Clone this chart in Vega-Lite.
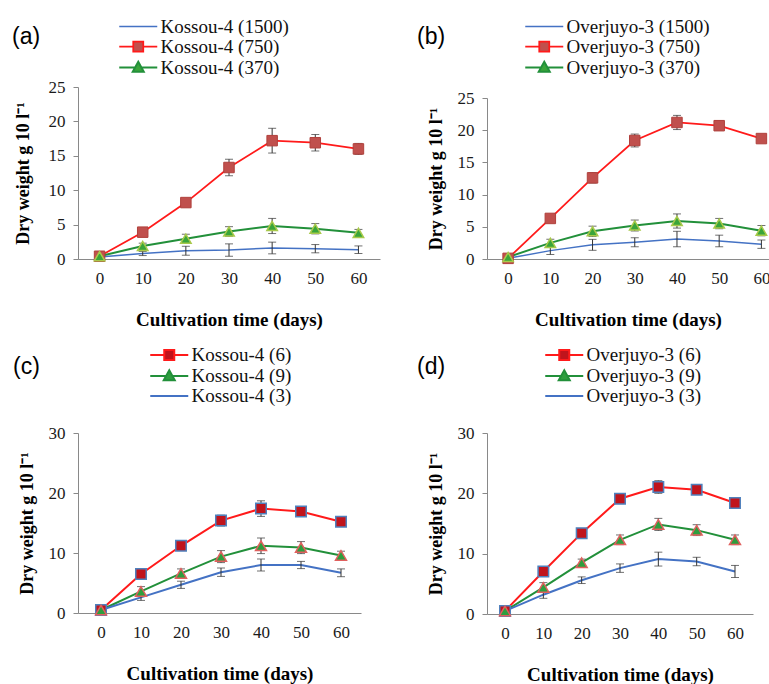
{
  "$schema": "https://vega.github.io/schema/vega-lite/v6.json",
  "padding": {"left": 12, "top": 17, "right": 0, "bottom": 0},
  "background": "white",
  "config": {
    "view": {"stroke": null},
    "axis": {"domainColor": "#898989", "tickColor": "#898989", "labelFont": "Liberation Serif", "labelFontSize": 17, "labelColor": "#1a1a1a", "titleFont": "Liberation Serif", "titleFontSize": 19, "titleFontWeight": "bold", "titleColor": "#000000", "grid": false},
    "axisX": {"ticks": false, "tickSize": 0, "labelPadding": 11, "titlePadding": 24},
    "axisY": {"tickSize": 5, "labelPadding": 8, "titlePadding": 12, "titleFontSize": 18},
    "legend": {"orient": "none", "padding": 0, "titleOrient": "left", "titleAnchor": "start", "titleBaseline": "top", "titleFont": "Liberation Sans", "titleFontSize": 23, "titleFontWeight": "normal", "titleColor": "#000000", "labelFont": "Liberation Serif", "labelFontSize": 19, "labelColor": "#111111", "labelOffset": 22.5, "rowPadding": 0, "symbolSize": 100, "symbolStrokeWidth": 2}
  },
  "data": {"values": [
    {"panel": "a", "series": "Kossou-4 (1500)", "day": 0, "value": 0.3, "err": 0.1},
    {"panel": "a", "series": "Kossou-4 (1500)", "day": 10, "value": 0.8, "err": 0.3},
    {"panel": "a", "series": "Kossou-4 (1500)", "day": 20, "value": 1.2, "err": 0.65},
    {"panel": "a", "series": "Kossou-4 (1500)", "day": 30, "value": 1.3, "err": 0.9},
    {"panel": "a", "series": "Kossou-4 (1500)", "day": 40, "value": 1.6, "err": 0.85},
    {"panel": "a", "series": "Kossou-4 (1500)", "day": 50, "value": 1.5, "err": 0.6},
    {"panel": "a", "series": "Kossou-4 (1500)", "day": 60, "value": 1.35, "err": 0.55},
    {"panel": "a", "series": "Kossou-4 (750)", "day": 0, "value": 0.4, "err": 0.1},
    {"panel": "a", "series": "Kossou-4 (750)", "day": 10, "value": 3.9, "err": 0.3},
    {"panel": "a", "series": "Kossou-4 (750)", "day": 20, "value": 8.2, "err": 0.6},
    {"panel": "a", "series": "Kossou-4 (750)", "day": 30, "value": 13.3, "err": 1.2},
    {"panel": "a", "series": "Kossou-4 (750)", "day": 40, "value": 17.2, "err": 1.8},
    {"panel": "a", "series": "Kossou-4 (750)", "day": 50, "value": 16.9, "err": 1.2},
    {"panel": "a", "series": "Kossou-4 (750)", "day": 60, "value": 16.0, "err": 0.8},
    {"panel": "a", "series": "Kossou-4 (370)", "day": 0, "value": 0.4, "err": 0.1},
    {"panel": "a", "series": "Kossou-4 (370)", "day": 10, "value": 1.9, "err": 0.4},
    {"panel": "a", "series": "Kossou-4 (370)", "day": 20, "value": 2.95, "err": 0.65},
    {"panel": "a", "series": "Kossou-4 (370)", "day": 30, "value": 4.0, "err": 0.7},
    {"panel": "a", "series": "Kossou-4 (370)", "day": 40, "value": 4.8, "err": 1.1},
    {"panel": "a", "series": "Kossou-4 (370)", "day": 50, "value": 4.4, "err": 0.75},
    {"panel": "a", "series": "Kossou-4 (370)", "day": 60, "value": 3.8, "err": 0.5},
    {"panel": "b", "series": "Overjuyo-3 (1500)", "day": 0, "value": 0.1, "err": 0.05},
    {"panel": "b", "series": "Overjuyo-3 (1500)", "day": 10, "value": 1.3, "err": 0.6},
    {"panel": "b", "series": "Overjuyo-3 (1500)", "day": 20, "value": 2.2, "err": 0.85},
    {"panel": "b", "series": "Overjuyo-3 (1500)", "day": 30, "value": 2.6, "err": 0.7},
    {"panel": "b", "series": "Overjuyo-3 (1500)", "day": 40, "value": 3.1, "err": 1.2},
    {"panel": "b", "series": "Overjuyo-3 (1500)", "day": 50, "value": 2.8, "err": 0.9},
    {"panel": "b", "series": "Overjuyo-3 (1500)", "day": 60, "value": 2.3, "err": 0.65},
    {"panel": "b", "series": "Overjuyo-3 (750)", "day": 0, "value": 0.1, "err": 0.05},
    {"panel": "b", "series": "Overjuyo-3 (750)", "day": 10, "value": 6.3, "err": 0.3},
    {"panel": "b", "series": "Overjuyo-3 (750)", "day": 20, "value": 12.6, "err": 0.8},
    {"panel": "b", "series": "Overjuyo-3 (750)", "day": 30, "value": 18.4, "err": 1.0},
    {"panel": "b", "series": "Overjuyo-3 (750)", "day": 40, "value": 21.2, "err": 1.1},
    {"panel": "b", "series": "Overjuyo-3 (750)", "day": 50, "value": 20.7, "err": 0.7},
    {"panel": "b", "series": "Overjuyo-3 (750)", "day": 60, "value": 18.7, "err": 0.6},
    {"panel": "b", "series": "Overjuyo-3 (370)", "day": 0, "value": 0.3, "err": 0.1},
    {"panel": "b", "series": "Overjuyo-3 (370)", "day": 10, "value": 2.5, "err": 0.55},
    {"panel": "b", "series": "Overjuyo-3 (370)", "day": 20, "value": 4.3, "err": 0.8},
    {"panel": "b", "series": "Overjuyo-3 (370)", "day": 30, "value": 5.2, "err": 0.85},
    {"panel": "b", "series": "Overjuyo-3 (370)", "day": 40, "value": 5.9, "err": 1.1},
    {"panel": "b", "series": "Overjuyo-3 (370)", "day": 50, "value": 5.5, "err": 0.8},
    {"panel": "b", "series": "Overjuyo-3 (370)", "day": 60, "value": 4.4, "err": 0.8},
    {"panel": "c", "series": "Kossou-4 (6)", "day": 0, "value": 0.5, "err": 0.1},
    {"panel": "c", "series": "Kossou-4 (6)", "day": 10, "value": 6.5, "err": 0.3},
    {"panel": "c", "series": "Kossou-4 (6)", "day": 20, "value": 11.2, "err": 0.5},
    {"panel": "c", "series": "Kossou-4 (6)", "day": 30, "value": 15.4, "err": 0.9},
    {"panel": "c", "series": "Kossou-4 (6)", "day": 40, "value": 17.4, "err": 1.3},
    {"panel": "c", "series": "Kossou-4 (6)", "day": 50, "value": 16.9, "err": 0.75},
    {"panel": "c", "series": "Kossou-4 (6)", "day": 60, "value": 15.2, "err": 0.5},
    {"panel": "c", "series": "Kossou-4 (9)", "day": 0, "value": 0.5, "err": 0.1},
    {"panel": "c", "series": "Kossou-4 (9)", "day": 10, "value": 3.6, "err": 0.8},
    {"panel": "c", "series": "Kossou-4 (9)", "day": 20, "value": 6.6, "err": 0.75},
    {"panel": "c", "series": "Kossou-4 (9)", "day": 30, "value": 9.4, "err": 1.0},
    {"panel": "c", "series": "Kossou-4 (9)", "day": 40, "value": 11.2, "err": 1.3},
    {"panel": "c", "series": "Kossou-4 (9)", "day": 50, "value": 10.9, "err": 1.0},
    {"panel": "c", "series": "Kossou-4 (9)", "day": 60, "value": 9.6, "err": 0.7},
    {"panel": "c", "series": "Kossou-4 (3)", "day": 0, "value": 0.5, "err": 0.1},
    {"panel": "c", "series": "Kossou-4 (3)", "day": 10, "value": 2.6, "err": 0.5},
    {"panel": "c", "series": "Kossou-4 (3)", "day": 20, "value": 4.7, "err": 0.6},
    {"panel": "c", "series": "Kossou-4 (3)", "day": 30, "value": 6.8, "err": 0.7},
    {"panel": "c", "series": "Kossou-4 (3)", "day": 40, "value": 8.0, "err": 1.0},
    {"panel": "c", "series": "Kossou-4 (3)", "day": 50, "value": 8.0, "err": 0.6},
    {"panel": "c", "series": "Kossou-4 (3)", "day": 60, "value": 6.7, "err": 0.65},
    {"panel": "d", "series": "Overjuyo-3 (6)", "day": 0, "value": 0.5, "err": 0.1},
    {"panel": "d", "series": "Overjuyo-3 (6)", "day": 10, "value": 7.05, "err": 0.3},
    {"panel": "d", "series": "Overjuyo-3 (6)", "day": 20, "value": 13.4, "err": 0.4},
    {"panel": "d", "series": "Overjuyo-3 (6)", "day": 30, "value": 19.1, "err": 0.8},
    {"panel": "d", "series": "Overjuyo-3 (6)", "day": 40, "value": 21.05, "err": 1.05},
    {"panel": "d", "series": "Overjuyo-3 (6)", "day": 50, "value": 20.6, "err": 0.8},
    {"panel": "d", "series": "Overjuyo-3 (6)", "day": 60, "value": 18.4, "err": 0.6},
    {"panel": "d", "series": "Overjuyo-3 (9)", "day": 0, "value": 0.5, "err": 0.1},
    {"panel": "d", "series": "Overjuyo-3 (9)", "day": 10, "value": 4.4, "err": 0.8},
    {"panel": "d", "series": "Overjuyo-3 (9)", "day": 20, "value": 8.5, "err": 0.6},
    {"panel": "d", "series": "Overjuyo-3 (9)", "day": 30, "value": 12.3, "err": 0.8},
    {"panel": "d", "series": "Overjuyo-3 (9)", "day": 40, "value": 14.85, "err": 1.0},
    {"panel": "d", "series": "Overjuyo-3 (9)", "day": 50, "value": 13.9, "err": 0.9},
    {"panel": "d", "series": "Overjuyo-3 (9)", "day": 60, "value": 12.3, "err": 0.8},
    {"panel": "d", "series": "Overjuyo-3 (3)", "day": 0, "value": 0.5, "err": 0.1},
    {"panel": "d", "series": "Overjuyo-3 (3)", "day": 10, "value": 3.2, "err": 0.6},
    {"panel": "d", "series": "Overjuyo-3 (3)", "day": 20, "value": 5.6, "err": 0.55},
    {"panel": "d", "series": "Overjuyo-3 (3)", "day": 30, "value": 7.6, "err": 0.7},
    {"panel": "d", "series": "Overjuyo-3 (3)", "day": 40, "value": 9.1, "err": 1.15},
    {"panel": "d", "series": "Overjuyo-3 (3)", "day": 50, "value": 8.7, "err": 0.7},
    {"panel": "d", "series": "Overjuyo-3 (3)", "day": 60, "value": 7.05, "err": 1.0}
  ]},
  "spacing": 16,
  "resolve": {"scale": {"color": "independent", "strokeWidth": "independent"}, "legend": {"color": "independent", "strokeWidth": "independent"}},
  "vconcat": [
    {
      "resolve": {"scale": {"color": "independent", "strokeWidth": "independent"}, "legend": {"color": "independent", "strokeWidth": "independent"}},
      "concat": [
        {
          "width": 302, "height": 172,
          "transform": [{"filter": "datum.panel == 'a'"}],
          "encoding": {
            "x": {"field": "day", "type": "quantitative", "scale": {"domain": [-5, 65], "nice": false, "zero": false}, "axis": {"values": [0, 10, 20, 30, 40, 50, 60], "title": "Cultivation time (days)"}},
            "y": {"field": "value", "type": "quantitative", "scale": {"domain": [0, 25], "nice": false}, "axis": {"values": [0, 5, 10, 15, 20, 25], "title": "Dry weight g 10 l⁻¹", "titlePadding": 16}}
          },
          "layer": [
            {"mark": {"type": "line"}, "encoding": {
              "color": {"field": "series", "type": "nominal", "scale": {"domain": ["Kossou-4 (1500)", "Kossou-4 (750)", "Kossou-4 (370)"], "range": ["#4472c4", "#ff1a1a", "#22903a"]},
                "legend": {"legendX": -66, "legendY": -70, "title": "(a)", "titlePadding": 78,
                  "encode": {"symbols": {"update": {
                    "shape": {"signal": "datum.value == 'Kossou-4 (1500)' ? 'M-1.85,0H5.75' : datum.value == 'Kossou-4 (750)' ? 'M-1.85,0H0.95M2.95,0H5.75M0.95,-1H2.95V1H0.95Z' : 'M-1.85,0H1.32M2.58,0H5.75M1.95,-1.15L3.05,0.85H0.85Z'"},
                    "fill": {"signal": "datum.value == 'Kossou-4 (1500)' ? 'transparent' : datum.value == 'Kossou-4 (750)' ? '#c0504d' : '#3aa53a'"},
                    "strokeWidth": {"signal": "datum.value == 'Kossou-4 (1500)' ? 1.5 : 2"}}}, "title": {"update": {"dy": {"value": 9}}}}}},
              "strokeWidth": {"field": "series", "type": "nominal", "scale": {"domain": ["Kossou-4 (1500)", "Kossou-4 (750)", "Kossou-4 (370)"], "range": [1.5, 2, 2]}, "legend": null}}},
            {"mark": {"type": "errorbar", "color": "#333333", "ticks": {"size": 8, "color": "#333333"}}, "encoding": {"yError": {"field": "err"}, "detail": {"field": "series"}}},
            {"transform": [{"filter": "datum.series == 'Kossou-4 (750)'"}], "mark": {"type": "point", "shape": "square", "filled": true, "fill": "#c0504d", "stroke": "#b0403c", "strokeWidth": 1, "size": 110, "opacity": 1}},
            {"transform": [{"filter": "datum.series == 'Kossou-4 (370)'"}], "mark": {"type": "point", "shape": "triangle-up", "filled": true, "fill": "#3aa53a", "stroke": "#a8c94a", "strokeWidth": 1.5, "size": 110, "opacity": 1}}
          ]
        },
        {
          "width": 282, "height": 172,
          "transform": [{"filter": "datum.panel == 'b'"}],
          "encoding": {
            "x": {"field": "day", "type": "quantitative", "scale": {"domain": [-5, 61.8], "nice": false, "zero": false}, "axis": {"values": [0, 10, 20, 30, 40, 50, 60], "title": "Cultivation time (days)"}},
            "y": {"field": "value", "type": "quantitative", "scale": {"domain": [0, 25], "nice": false, "range": [172, 11]}, "axis": {"values": [0, 5, 10, 15, 20, 25], "title": "Dry weight g 10 l⁻¹"}}
          },
          "layer": [
            {"mark": {"type": "line"}, "encoding": {
              "color": {"field": "series", "type": "nominal", "scale": {"domain": ["Overjuyo-3 (1500)", "Overjuyo-3 (750)", "Overjuyo-3 (370)"], "range": ["#4472c4", "#ff1a1a", "#22903a"]},
                "legend": {"legendX": -70, "legendY": -70, "title": "(b)", "titlePadding": 79,
                  "encode": {"symbols": {"update": {
                    "shape": {"signal": "datum.value == 'Overjuyo-3 (1500)' ? 'M-1.85,0H5.75' : datum.value == 'Overjuyo-3 (750)' ? 'M-1.85,0H0.95M2.95,0H5.75M0.95,-1H2.95V1H0.95Z' : 'M-1.85,0H1.32M2.58,0H5.75M1.95,-1.15L3.05,0.85H0.85Z'"},
                    "fill": {"signal": "datum.value == 'Overjuyo-3 (1500)' ? 'transparent' : datum.value == 'Overjuyo-3 (750)' ? '#c0504d' : '#3aa53a'"},
                    "strokeWidth": {"signal": "datum.value == 'Overjuyo-3 (1500)' ? 1.5 : 2"}}}, "title": {"update": {"dy": {"value": 9}}}}}},
              "strokeWidth": {"field": "series", "type": "nominal", "scale": {"domain": ["Overjuyo-3 (1500)", "Overjuyo-3 (750)", "Overjuyo-3 (370)"], "range": [1.5, 2, 2]}, "legend": null}}},
            {"mark": {"type": "errorbar", "color": "#333333", "ticks": {"size": 8, "color": "#333333"}}, "encoding": {"yError": {"field": "err"}, "detail": {"field": "series"}}},
            {"transform": [{"filter": "datum.series == 'Overjuyo-3 (750)'"}], "mark": {"type": "point", "shape": "square", "filled": true, "fill": "#c0504d", "stroke": "#b0403c", "strokeWidth": 1, "size": 110, "opacity": 1}},
            {"transform": [{"filter": "datum.series == 'Overjuyo-3 (370)'"}], "mark": {"type": "point", "shape": "triangle-up", "filled": true, "fill": "#3aa53a", "stroke": "#a8c94a", "strokeWidth": 1.5, "size": 110, "opacity": 1}}
          ]
        }
      ],
      "columns": 2, "align": "none", "spacing": 37
    },
    {
      "resolve": {"scale": {"color": "independent", "strokeWidth": "independent"}, "legend": {"color": "independent", "strokeWidth": "independent"}},
      "concat": [
        {
          "width": 283, "height": 180,
          "transform": [{"filter": "datum.panel == 'c'"}],
          "encoding": {
            "x": {"field": "day", "type": "quantitative", "scale": {"domain": [-5.75, 65], "nice": false, "zero": false}, "axis": {"values": [0, 10, 20, 30, 40, 50, 60], "title": "Cultivation time (days)"}},
            "y": {"field": "value", "type": "quantitative", "scale": {"domain": [0, 30], "nice": false}, "axis": {"values": [0, 10, 20, 30], "title": "Dry weight g 10 l⁻¹"}}
          },
          "layer": [
            {"mark": {"type": "line"}, "encoding": {
              "color": {"field": "series", "type": "nominal", "scale": {"domain": ["Kossou-4 (6)", "Kossou-4 (9)", "Kossou-4 (3)"], "range": ["#ff1a1a", "#22903a", "#4472c4"]},
                "legend": {"legendX": -65, "legendY": -87.5, "title": "(c)", "titlePadding": 110,
                  "encode": {"symbols": {"update": {
                    "shape": {"signal": "datum.value == 'Kossou-4 (3)' ? 'M-1.85,0H5.75' : datum.value == 'Kossou-4 (6)' ? 'M-1.85,0H0.95M2.95,0H5.75M0.95,-1H2.95V1H0.95Z' : 'M-1.85,0H1.32M2.58,0H5.75M1.95,-1.15L3.05,0.85H0.85Z'"},
                    "fill": {"signal": "datum.value == 'Kossou-4 (3)' ? 'transparent' : datum.value == 'Kossou-4 (6)' ? '#c0141c' : '#2e9e3e'"},
                    "strokeWidth": {"signal": "datum.value == 'Kossou-4 (3)' ? 1.5 : 2"}}}, "title": {"update": {"dy": {"value": 10}}}}}},
              "strokeWidth": {"field": "series", "type": "nominal", "scale": {"domain": ["Kossou-4 (6)", "Kossou-4 (9)", "Kossou-4 (3)"], "range": [2, 2, 1.5]}, "legend": null}}},
            {"mark": {"type": "errorbar", "color": "#333333", "ticks": {"size": 8, "color": "#333333"}}, "encoding": {"yError": {"field": "err"}, "detail": {"field": "series"}}},
            {"transform": [{"filter": "datum.series == 'Kossou-4 (6)'"}], "mark": {"type": "point", "shape": "square", "filled": true, "fill": "#c0141c", "stroke": "#4f81bd", "strokeWidth": 1.5, "size": 110, "opacity": 1}},
            {"transform": [{"filter": "datum.series == 'Kossou-4 (9)'"}], "mark": {"type": "point", "shape": "triangle-up", "filled": true, "fill": "#2e9e3e", "stroke": "#e0605e", "strokeWidth": 1.5, "size": 120, "opacity": 1}}
          ]
        },
        {
          "width": 266, "height": 181,
          "transform": [{"filter": "datum.panel == 'd'"}],
          "encoding": {
            "x": {"field": "day", "type": "quantitative", "scale": {"domain": [-4.7, 64.7], "nice": false, "zero": false}, "axis": {"values": [0, 10, 20, 30, 40, 50, 60], "title": "Cultivation time (days)"}},
            "y": {"field": "value", "type": "quantitative", "scale": {"domain": [0, 30], "nice": false}, "axis": {"values": [0, 10, 20, 30], "title": "Dry weight g 10 l⁻¹"}}
          },
          "layer": [
            {"mark": {"type": "line"}, "encoding": {
              "color": {"field": "series", "type": "nominal", "scale": {"domain": ["Overjuyo-3 (6)", "Overjuyo-3 (9)", "Overjuyo-3 (3)"], "range": ["#ff1a1a", "#22903a", "#4472c4"]},
                "legend": {"legendX": -70, "legendY": -87.5, "title": "(d)", "titlePadding": 99,
                  "encode": {"symbols": {"update": {
                    "shape": {"signal": "datum.value == 'Overjuyo-3 (3)' ? 'M-1.85,0H5.75' : datum.value == 'Overjuyo-3 (6)' ? 'M-1.85,0H0.95M2.95,0H5.75M0.95,-1H2.95V1H0.95Z' : 'M-1.85,0H1.32M2.58,0H5.75M1.95,-1.15L3.05,0.85H0.85Z'"},
                    "fill": {"signal": "datum.value == 'Overjuyo-3 (3)' ? 'transparent' : datum.value == 'Overjuyo-3 (6)' ? '#c0141c' : '#2e9e3e'"},
                    "strokeWidth": {"signal": "datum.value == 'Overjuyo-3 (3)' ? 1.5 : 2"}}}, "title": {"update": {"dy": {"value": 10}}}}}},
              "strokeWidth": {"field": "series", "type": "nominal", "scale": {"domain": ["Overjuyo-3 (6)", "Overjuyo-3 (9)", "Overjuyo-3 (3)"], "range": [2, 2, 1.5]}, "legend": null}}},
            {"mark": {"type": "errorbar", "color": "#333333", "ticks": {"size": 8, "color": "#333333"}}, "encoding": {"yError": {"field": "err"}, "detail": {"field": "series"}}},
            {"transform": [{"filter": "datum.series == 'Overjuyo-3 (6)'"}], "mark": {"type": "point", "shape": "square", "filled": true, "fill": "#c0141c", "stroke": "#4f81bd", "strokeWidth": 1.5, "size": 110, "opacity": 1}},
            {"transform": [{"filter": "datum.series == 'Overjuyo-3 (9)'"}], "mark": {"type": "point", "shape": "triangle-up", "filled": true, "fill": "#2e9e3e", "stroke": "#e0605e", "strokeWidth": 1.5, "size": 120, "opacity": 1}}
          ]
        }
      ],
      "columns": 2, "align": "none", "spacing": 56
    }
  ]
}
